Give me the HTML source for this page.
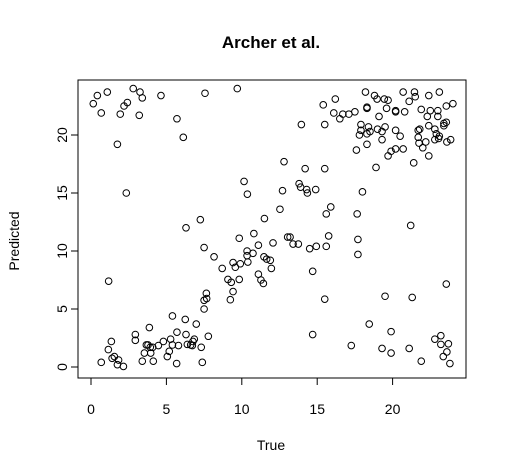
<!DOCTYPE html>
<html><head><meta charset="utf-8"><style>
body{margin:0;background:#fff}
svg{display:block;font-family:"Liberation Sans",Arial,sans-serif}
</style></head><body>
<svg id="chart" width="507" height="476">
<rect width="507" height="476" fill="#fff"/>
<text x="271" y="48" text-anchor="middle" font-size="17" font-weight="bold">Archer et al.</text>
<text x="271" y="450" text-anchor="middle" font-size="14">True</text>
<text transform="translate(19,241) rotate(-90)" text-anchor="middle" font-size="14">Predicted</text>
<rect x="78" y="80" width="388" height="298" fill="none" stroke="#000"/>
<g id="xaxis"></g>
<g id="yaxis"></g>
<g id="pts"></g>
</svg>
<script>
const xTicks=[0,5,10,15,20];
const yTicks=[0,5,10,15,20];
const trueVals=[0.15,0.42,1.08,0.68,2.8,3.25,3.4,2.19,2.41,1.94,3.2,4.64,5.7,6.12,7.56,9.7,1.75,2.34,12.8,10.15,10.37,12.7,12.53,11.5,7.25,6.3,
18.2,18.8,18.97,19.45,19.7,20.7,21.45,21.5,21.1,22.4,23.1,24.0,23.56,15.4,16.2,16.1,16.7,16.5,17.1,17.5,18.3,18.3,19.1,19.6,20.2,20.2,20.8,21.9,22.5,23.0,22.3,23.0,13.95,15.5,17.9,17.9,18.4,18.5,18.3,17.8,19.0,19.3,19.5,20.2,20.5,19.3,18.3,17.6,19.7,19.9,20.2,20.7,21.4,21.7,21.8,21.7,22.4,22.8,23.4,23.56,23.4,22.9,21.75,22.2,22.0,22.4,22.8,23.05,23.85,23.6,23.1,14.2,15.5,18.9,13.8,13.9,14.3,14.35,14.9,18.0,15.9,15.6,17.65,21.2,
1.17,7.5,8.16,8.7,9.83,10.8,11.1,12.07,10.35,10.74,10.35,9.42,9.9,9.57,10.4,11.47,11.65,11.89,11.96,11.1,11.27,11.43,9.08,9.3,9.83,9.42,9.24,7.65,7.67,7.5,7.5,5.4,6.25,6.98,3.87,5.7,6.3,7.78,2.94,2.94,1.35,1.15,1.55,1.4,1.83,1.75,2.15,0.68,3.67,3.78,4.47,4.8,5.28,5.4,5.8,3.93,4.09,5.19,5.06,3.54,3.96,3.4,4.13,5.68,6.39,6.61,6.72,6.76,6.85,7.31,7.38,13.04,
15.76,17.7,17.7,13.2,13.4,13.75,14.5,14.94,15.6,14.7,15.5,23.56,19.5,21.3,18.45,14.7,19.9,17.26,19.3,19.9,21.1,21.9,22.8,23.2,23.2,23.7,23.6,23.36,23.8];
const predVals=[22.7,23.4,23.7,21.9,24.0,23.7,23.2,22.5,22.8,21.8,21.7,23.4,21.4,19.8,23.6,24.0,19.2,15.0,17.7,16.0,14.9,15.2,13.6,12.8,12.7,12.0,
23.7,23.4,23.1,23.1,23.0,23.7,23.7,23.3,22.9,23.4,23.7,22.7,22.5,22.6,23.1,21.9,21.8,21.4,21.8,22.0,22.3,22.4,21.6,22.3,22.1,22.0,22.0,22.2,22.1,22.1,21.6,21.6,20.9,20.9,20.9,20.4,20.7,20.3,20.1,20.0,20.5,20.3,20.7,20.4,19.9,19.6,19.2,18.7,18.2,18.6,18.8,18.8,17.6,20.4,20.5,19.8,20.8,20.5,21.0,21.1,20.8,20.1,19.3,19.4,18.9,18.2,19.6,19.7,19.6,19.4,19.9,17.1,17.1,17.2,15.8,15.5,15.3,15.0,15.3,15.1,13.8,13.2,13.2,12.2,
7.4,10.3,9.5,8.5,11.1,11.5,10.5,10.7,10.0,9.8,9.6,9.0,8.9,8.6,9.05,9.5,9.3,9.2,8.5,8.0,7.5,7.2,7.55,7.3,7.55,6.5,5.8,6.35,5.9,5.75,5.0,4.4,4.1,3.7,3.4,3.0,2.8,2.65,2.8,2.3,2.2,1.5,0.9,0.75,0.6,0.2,0.05,0.4,1.9,1.9,1.85,2.2,2.4,1.9,1.85,1.7,1.7,1.35,0.9,1.2,1.2,0.5,0.5,0.3,1.95,1.9,1.85,2.2,2.4,1.7,0.4,11.2,
11.3,11.0,9.7,11.2,10.6,10.6,10.2,10.4,10.4,8.25,5.85,7.15,6.1,6.0,3.7,2.8,3.05,1.85,1.6,1.2,1.6,0.5,2.4,2.7,1.95,2.0,1.3,0.9,0.3];
const NS="http://www.w3.org/2000/svg";
function sx(v){return 91+v*15.08;}
function sy(v){return 367-v*11.6;}
function mk(tag,attrs,parent){const e=document.createElementNS(NS,tag);for(const k in attrs)e.setAttribute(k,attrs[k]);parent.appendChild(e);return e;}
const xa=document.getElementById('xaxis'),ya=document.getElementById('yaxis'),pg=document.getElementById('pts');
mk('line',{x1:sx(xTicks[0]),x2:sx(xTicks[xTicks.length-1]),y1:378,y2:378,stroke:'#000'},xa);
xTicks.forEach(t=>{
 const l=mk('line',{x1:sx(t),x2:sx(t),y1:378,y2:385,stroke:'#000'},xa);
 
 
 const tx=mk('text',{x:sx(t),y:414,'text-anchor':'middle','font-size':'14'},xa);tx.textContent=t;
 
 
});
yTicks.forEach(t=>{
 const l=mk('line',{x1:71,x2:78,y1:sy(t),y2:sy(t),stroke:'#000'},ya);
 
 
 const tx=mk('text',{transform:`translate(67,${sy(t)}) rotate(-90)`,'text-anchor':'middle','font-size':'14'},ya);tx.textContent=t;
 
 
});
trueVals.forEach((v,i)=>{
 const c=mk('circle',{cx:sx(v),cy:sy(predVals[i]),r:3.3,fill:'none',stroke:'#000','stroke-width':1},pg);
 
 
});
</script>
</body></html>
